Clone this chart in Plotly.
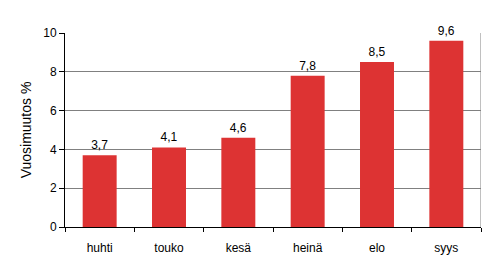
import plotly.graph_objects as go

categories = ["huhti", "touko", "kesä", "heinä", "elo", "syys"]
values = [3.7, 4.1, 4.6, 7.8, 8.5, 9.6]
y_ticks = [0, 2, 4, 6, 8, 10]

fig = go.Figure()
fig.add_trace(go.Bar(
    x=list(range(len(categories))), y=values,
    marker=dict(color="#DD3333", line=dict(width=0)),
    text=[f"{v:.1f}".replace(".", ",") for v in values],
    textposition="outside", cliponaxis=False,
    textfont=dict(family="Liberation Sans, Arial", size=12, color="#000000"),
    width=0.49,
))

boundaries = [i - 0.5 for i in range(len(categories) + 1)]

fig.update_layout(
    width=495, height=268,
    margin=dict(l=65, r=14, t=33, b=41),
    paper_bgcolor="white", plot_bgcolor="white",
    font=dict(family="Liberation Sans, Arial", size=12, color="#000000"),
    showlegend=False,
    xaxis=dict(
        range=[-0.5, 5.5],
        tickmode="array", tickvals=list(range(len(categories))), ticktext=categories,
        showgrid=False, zeroline=False,
        showline=True, linecolor="#000000", linewidth=1,
        ticks="", ticklabelstandoff=10,
    ),
    xaxis2=dict(
        overlaying="x", side="bottom", range=[-0.5, 5.5],
        tickmode="array", tickvals=boundaries, showticklabels=False,
        showgrid=False, zeroline=False, showline=False,
        ticks="outside", ticklen=4, tickcolor="#000000",
    ),
    yaxis=dict(
        range=[0, 10], tickvals=y_ticks,
        showgrid=True, gridcolor="#808080", gridwidth=1,
        zeroline=False, showline=True, linecolor="#000000", linewidth=1,
        ticks="outside", ticklen=5, tickcolor="#000000",
        title=dict(text="Vuosimuutos %", standoff=8),
    ),
)

# invisible trace to activate the boundary-tick axis
fig.add_trace(go.Scatter(x=boundaries, y=[0] * len(boundaries), xaxis="x2",
                         mode="markers", marker=dict(opacity=0), hoverinfo="skip"))
# right border
fig.add_shape(type="line", xref="x", yref="y", x0=5.5, x1=5.5, y0=0, y1=10,
              line=dict(color="#808080", width=1))

fig.write_html("out.html")
